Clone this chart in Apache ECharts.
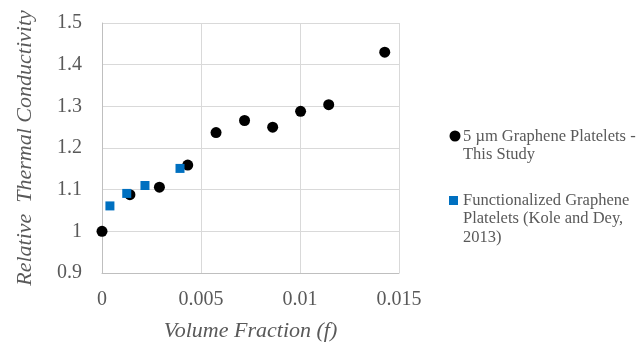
<!DOCTYPE html>
<html><head><meta charset="utf-8">
<script src="https://cdn.jsdelivr.net/npm/echarts@6/dist/echarts.min.js"></script>
<style>html,body{margin:0;padding:0;background:#fff}#c{width:641px;height:347px}</style>
</head><body><div id="c"></div>
<script>
const studyX = [0, 0.00141, 0.0029, 0.00433, 0.00576, 0.0072, 0.00862, 0.01003, 0.01145, 0.01428];
const studyY = [1.0, 1.088, 1.106, 1.159, 1.237, 1.266, 1.25, 1.288, 1.304, 1.43];
const koleX = [0.0004, 0.00125, 0.00217, 0.00394];
const koleY = [1.061, 1.091, 1.11, 1.151];
const xTicks = ['0', '0.005', '0.01', '0.015'];
const yTicks = ['0.9', '1', '1.1', '1.2', '1.3', '1.4', '1.5'];
const name1 = '5 \u00b5m Graphene Platelets -\nThis Study';
const name2 = 'Functionalized Graphene\nPlatelets (Kole and Dey,\n2013)';

const chart = echarts.init(document.getElementById('c'), null, {renderer: 'canvas'});
const font = 'Liberation Serif';
const legendText = {fontFamily: font, fontSize: 16.5, fill: '#595959', lineHeight: 18.7};
chart.setOption({
  animation: false,
  backgroundColor: '#fff',
  grid: {left: 102, top: 23, width: 297, height: 256, containLabel: false},
  xAxis: {
    type: 'value', min: 0, max: 0.015, interval: 0.005,
    name: 'Volume Fraction (f)', nameLocation: 'middle', nameGap: 47,
    nameTextStyle: {fontFamily: font, fontStyle: 'italic', fontSize: 22, color: '#595959'},
    axisLine: {show: true, lineStyle: {color: '#bfbfbf', width: 1}},
    axisTick: {show: false},
    splitLine: {show: true, lineStyle: {color: '#d9d9d9', width: 1}},
    axisLabel: {fontFamily: font, fontSize: 20, color: '#595959', margin: 17,
      formatter: v => xTicks[Math.round(v / 0.005)]}
  },
  yAxis: {
    type: 'value', min: 0.9, max: 1.5, interval: 0.1,
    name: 'Relative  Thermal Conductivity', nameLocation: 'middle', nameGap: 66,
    nameTextStyle: {fontFamily: font, fontStyle: 'italic', fontSize: 22, color: '#595959'},
    axisLine: {show: true, lineStyle: {color: '#bfbfbf', width: 1}},
    axisTick: {show: false},
    splitLine: {show: true, lineStyle: {color: '#d9d9d9', width: 1}},
    axisLabel: {fontFamily: font, fontSize: 20, color: '#595959', margin: 20,
      formatter: v => yTicks[Math.round((v - 0.9) / 0.1)]}
  },
  graphic: [
    {type: 'circle', shape: {cx: 455, cy: 136, r: 5.5}, style: {fill: '#000000'}},
    {type: 'text', left: 463, top: 127, style: Object.assign({text: name1}, legendText)},
    {type: 'rect', shape: {x: 449, y: 196, width: 9, height: 9}, style: {fill: '#0070c0'}},
    {type: 'text', left: 463, top: 191, style: Object.assign({text: name2}, legendText)}
  ],
  series: [
    {name: name1, type: 'scatter', symbol: 'circle', symbolSize: 11, z: 2,
      itemStyle: {color: '#000000', opacity: 1},
      data: studyX.map((x, i) => [x, studyY[i]])},
    {name: name2, type: 'scatter', symbol: 'rect', symbolSize: 9, z: 3,
      itemStyle: {color: '#0070c0', opacity: 1},
      data: koleX.map((x, i) => [x, koleY[i]])}
  ]
});
</script></body></html>
